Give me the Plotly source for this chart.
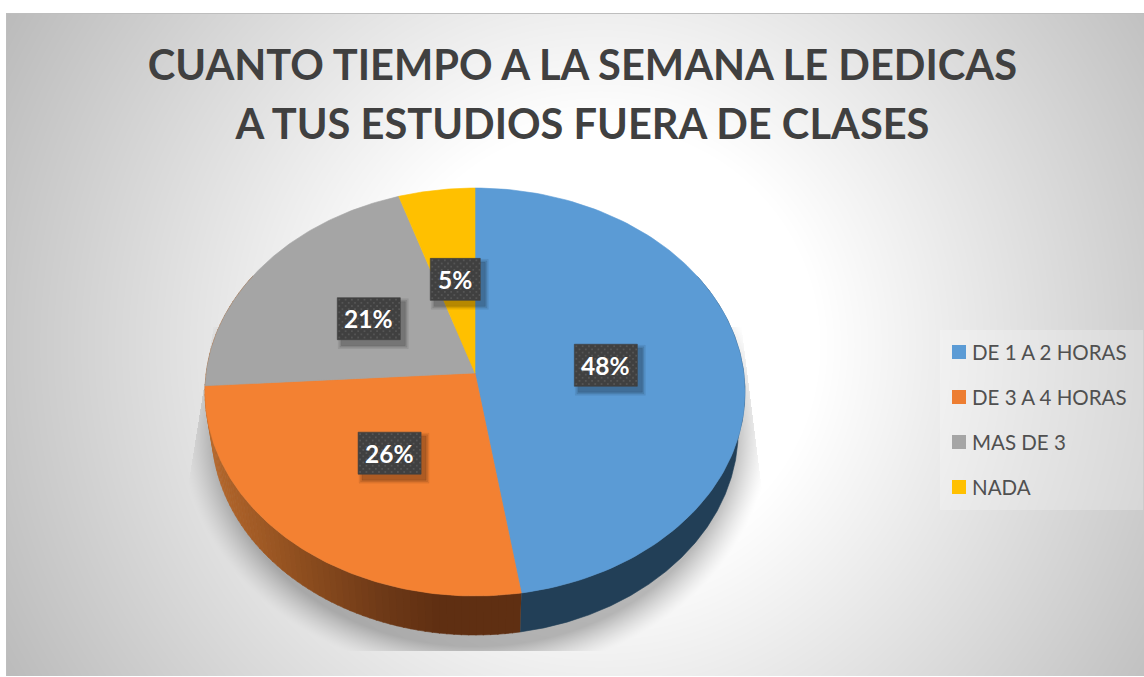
import base64, struct, zlib
import numpy as np
import plotly.graph_objects as go

# ---- data ----
categories = ["DE 1 A 2 HORAS", "DE 3 A 4 HORAS", "MAS DE 3", "NADA"]
values = [47.5, 26.5, 21.0, 5.0]
pct_labels = ["48%", "26%", "21%", "5%"]
colors = ["#5b9bd5", "#f38132", "#a5a5a5", "#ffc000"]
legend_colors = ["#5b9bd5", "#ed7d31", "#a5a5a5", "#ffc000"]
title_lines = ["CUANTO TIEMPO A LA SEMANA LE DEDICAS", "A TUS ESTUDIOS FUERA DE CLASES"]

W, H = 1144, 677
CX, CY = 475.0, 373.0      # apex of the pie on the page
B, A, K = 268.8, 202.2, 0.0932  # perspective projection of the disc
DEPTH, BOTTOM_X = 39.0, 0.975


def project(theta_deg, r=1.0, depth=0.0, xs=1.0):
    t = np.radians(theta_deg)
    u, v = r * np.sin(t), r * np.cos(t)
    w = 1 + K * v
    return CX + xs * B * u / w, CY - A * v / w + depth


def background():
    yy, xx = np.mgrid[0:H, 0:W].astype(float)
    d = np.hypot(xx - 600, yy - 345)
    g = np.clip(255 - 0.147 * (d - 220), 0, 255)
    # legend panel
    panel = (xx >= 940) & (xx < 1143) & (yy >= 330) & (yy < 510)
    g = np.where(panel, g + (255 - g) * 0.22, g)
    # soft shadow under the pie, clipped like the reference
    e = np.hypot((xx - 475) / 258, (yy - 431) / 215)
    a = 0.27 * np.clip(1 - (e - 1) / 0.14, 0, 1) ** 1.3
    left = 213 - (yy - 327) * 26 / 163
    right = 741 + (yy - 327) * 22 / 176
    inside = (yy >= 327) & (yy <= 650) & (xx >= left) & (xx <= right)
    g = g * (1 - a * inside)
    g[:, :6] = 255
    g[:13, :] = 255
    g[676:, :] = 255
    g[13, 6:] = 190
    g[13:676, 6] = 190
    raw = b"".join(b"\0" + row.tobytes() for row in g.astype(np.uint8))

    def chunk(tag, data):
        c = tag + data
        return struct.pack(">I", len(data)) + c + struct.pack(">I", zlib.crc32(c))

    png = b"\x89PNG\r\n\x1a\n" + chunk(b"IHDR", struct.pack(">IIBBBBB", W, H, 8, 0, 0, 0, 0)) \
        + chunk(b"IDAT", zlib.compress(raw, 9)) + chunk(b"IEND", b"")
    return "data:image/png;base64," + base64.b64encode(png).decode()


def poly(x, y, color, name=""):
    return go.Scatter(x=list(x), y=list(y), mode="lines", fill="toself", fillcolor=color,
                      line=dict(color=color, width=0.6), hoverinfo="skip", showlegend=False, name=name)


fig = go.Figure()
edges = 360 * np.concatenate([[0], np.cumsum(values)]) / sum(values)

# ---- side wall ----
def wall(t0, t1, color):
    ts = np.linspace(t0, t1, 24)
    x1, y1 = project(ts)
    x2, y2 = project(ts[::-1], depth=DEPTH, xs=BOTTOM_X)
    fig.add_trace(poly(np.r_[x1, x2], np.r_[y1, y2], color))


wall(60, edges[1], "#223f57")
ramp_x = [205, 220, 300, 380, 440, 530]
ramp_r = [184, 176, 142, 111, 95, 95]
ramp_g = [106, 101, 78, 58, 47, 47]
ramp_b = [46, 43, 31, 24, 18, 18]
strip = np.linspace(edges[1], 300, 90)
for a0, a1 in zip(strip[:-1], strip[1:]):
    mx, _ = project((a0 + a1) / 2)
    c = [int(np.interp(mx, ramp_x, r)) for r in (ramp_r, ramp_g, ramp_b)]
    wall(a0, a1 + 0.2, f"rgb({c[0]},{c[1]},{c[2]})")

# ---- top face ----
for i, cat in enumerate(categories):
    ts = np.linspace(edges[i], edges[i + 1], 120)
    x, y = project(ts)
    fig.add_trace(poly(np.r_[CX, x, CX], np.r_[CY, y, CY], colors[i], cat))

# ---- data labels ----
ann = []
for i, lab in enumerate(pct_labels):
    mx, my = project((edges[i] + edges[i + 1]) / 2, r=0.49)
    hw = 25 if len(lab) == 2 else 31.5
    hh = 21
    for grow, alpha in ((4, 0.07), (2.5, 0.1), (1, 0.14)):
        sx0, sx1 = mx - hw + 5 - grow, mx + hw + 4 + grow
        sy0, sy1 = my - hh + 5 - grow, my + hh + 5 + grow
        fig.add_trace(poly([sx0, sx1, sx1, sx0, sx0], [sy0, sy0, sy1, sy1, sy0], f"rgba(0,0,0,{alpha})"))
    x0, x1, y0, y1 = mx - hw, mx + hw, my - hh, my + hh
    fig.add_trace(poly([x0, x1, x1, x0, x0], [y0, y0, y1, y1, y0], "#404040"))
    dx, dy = [], []
    for r_i, yy in enumerate(np.arange(y0 + 2, y1, 3.15)):
        off = 0 if r_i % 2 == 0 else 3.15
        for xx in np.arange(x0 + 2 + off, x1, 6.3):
            dx.append(xx)
            dy.append(yy)
    fig.add_trace(go.Scatter(x=dx, y=dy, mode="markers", hoverinfo="skip", showlegend=False,
                             marker=dict(symbol="square", size=1.8, color="#555555", line=dict(width=0))))
    ann.append(dict(x=mx, y=my, xref="x", yref="y", text=f"<b>{lab}</b>", showarrow=False,
                    font=dict(family="Lato", size=24.5, color="white")))

# ---- legend ----
legend_y = [352, 397, 442, 487]
fig.add_trace(go.Scatter(x=[959] * 4, y=legend_y, mode="markers", hoverinfo="skip", showlegend=False,
                         marker=dict(symbol="square", size=14, color=legend_colors, line=dict(width=0))))
for cat, ly in zip(categories, legend_y):
    ann.append(dict(x=970, y=ly, xref="x", yref="y", text=cat, showarrow=False, xanchor="left",
                    font=dict(family="Lato", size=20.5, color="#505050")))

title_text = "<br>".join(f'<span style="font-size:41.6px"><b>{t}</b></span>' for t in title_lines)
fig.update_layout(
    width=W, height=H, margin=dict(l=0, r=0, t=0, b=0, pad=0), paper_bgcolor="white", plot_bgcolor="rgba(0,0,0,0)",
    showlegend=False, annotations=ann,
    title=dict(text=title_text, x=0.5091, xanchor="center", y=0.8825, yanchor="middle",
               font=dict(family="Lato", size=46, color="#404040")),
    xaxis=dict(range=[0, W], visible=False, fixedrange=True),
    yaxis=dict(range=[H, 0], visible=False, fixedrange=True),
    images=[dict(source=background(), xref="x", yref="y", x=0, y=0, sizex=W, sizey=H,
                 xanchor="left", yanchor="top", sizing="stretch", layer="below")],
)
fig.write_html("out.html", config=dict(displayModeBar=False),
               post_script="document.body.style.margin='0';document.body.style.overflow='hidden';")
